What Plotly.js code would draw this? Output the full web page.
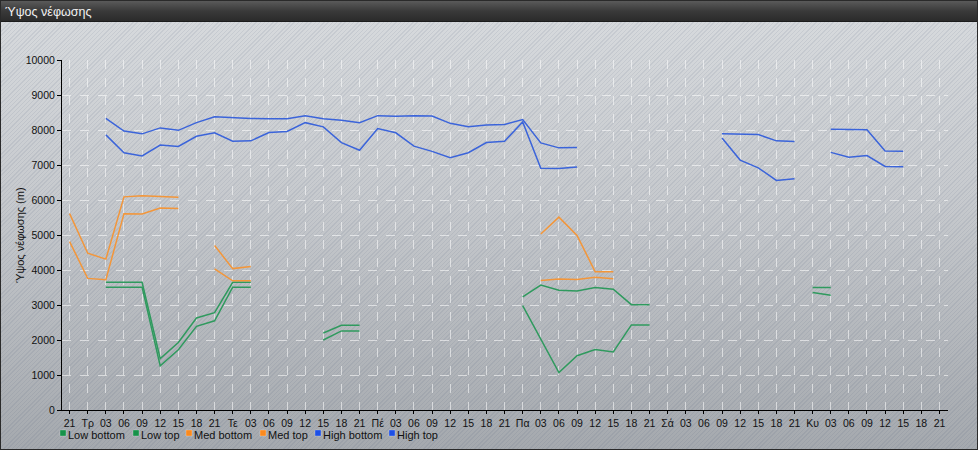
<!DOCTYPE html>
<html>
<head>
<meta charset="utf-8">
<script src="https://cdn.plot.ly/plotly-3.0.1.min.js"></script>
<style>
  html, body { margin: 0; padding: 0; }
  #wrap {
    position: relative; width: 978px; height: 450px; box-sizing: border-box;
    border: 1px solid #2a2a2a; overflow: hidden;
    background:
      repeating-linear-gradient(135deg, rgba(70,85,115,0.10) 0px, rgba(70,85,115,0.10) 1px, rgba(255,255,255,0) 1px, rgba(255,255,255,0) 3px),
      linear-gradient(to bottom, #d8dbde 0%, #c6c9cd 45%, #a5a9ae 100%);
  }
  #bar {
    position: absolute; left: 0; top: 0; width: 100%; height: 21px;
    background: linear-gradient(to bottom, #5a5a5a 0%, #3a3a3a 50%, #2b2b2b 100%);
    border-bottom: 1px solid #1c1c1c;
    color: #f2f2f2; font-family: "Liberation Sans", Arial, sans-serif; font-size: 12.5px;
    line-height: 22px; padding-left: 4px; box-sizing: border-box;
  }
  #chart { position: absolute; left: -1px; top: -1px; width: 978px; height: 450px; }
</style>
</head>
<body>
<div id="wrap">
  <div id="bar">Ύψος νέφωσης</div>
  <div id="chart"></div>
</div>
<script>
// Category labels (every 3 hours)
var tickLabels = ["21","Τρ","03","06","09","12","15","18",
                  "21","Τε","03","06","09","12","15","18",
                  "21","Πέ","03","06","09","12","15","18",
                  "21","Πα","03","06","09","12","15","18",
                  "21","Σά","03","06","09","12","15","18",
                  "21","Κυ","03","06","09","12","15","18","21"];
var N = null;
var lowBottom = [N,N,3510,3510,3510,1260,1720,2390,2550,3510,3510,N,N,N,2000,2260,2260,N,N,N,N,N,N,N,N,2980,2020,1070,1550,1730,1660,2430,2430,N,N,N,N,N,N,N,N,3360,3280,N,N,N,N,N,N];
var lowTop    = [N,N,3650,3650,3650,1470,1930,2630,2780,3650,3650,N,N,N,2200,2420,2420,N,N,N,N,N,N,N,N,3230,3570,3420,3400,3500,3450,3010,3010,N,N,N,N,N,N,N,N,3500,3500,N,N,N,N,N,N];
var medBottom = [4810,3760,3720,5610,5600,5770,5760,N,4030,3690,3690,N,N,N,N,N,N,N,N,N,N,N,N,N,N,N,3700,3740,3730,3790,3750,N,N,N,N,N,N,N,N,N,N,N,N,N,N,N,N,N,N];
var medTop    = [5610,4480,4310,6090,6120,6100,6080,N,4700,4040,4100,N,N,N,N,N,N,N,N,N,N,N,N,N,N,N,5030,5510,4990,3950,3950,N,N,N,N,N,N,N,N,N,N,N,N,N,N,N,N,N,N];
var highBottom= [N,N,7860,7350,7260,7570,7530,7820,7920,7680,7690,7930,7960,8210,8090,7640,7420,8040,7920,7540,7390,7210,7350,7640,7680,8230,6910,6900,6940,N,N,N,N,N,N,N,7770,7140,6920,6560,6610,N,7360,7220,7270,6960,6950,N,N];
var highTop   = [N,N,8330,7970,7890,8060,7990,8210,8380,8350,8330,8320,8320,8410,8320,8280,8210,8410,8390,8410,8400,8190,8090,8140,8160,8300,7630,7490,7500,N,N,N,N,N,N,N,7890,7880,7870,7690,7670,N,8020,8020,8010,7400,7390,N,N];
var yTicks = [0,1000,2000,3000,4000,5000,6000,7000,8000,9000,10000];
var yTickText = ["0","1000","2000","3000","4000","5000","6000","7000","8000","9000","10000"];
var yTitle = "Ύψος νέφωσης (m)";

var seriesNames = ["Low bottom","Low top","Med bottom","Med top","High bottom","High top"];
var seriesData = [lowBottom, lowTop, medBottom, medTop, highBottom, highTop];
var lineColors = ["#2f9a5e","#2f9a5e","#f3963a","#f3963a","#3b64da","#3b64da"];
var legendColors = ["#17924a","#17924a","#fb8a1e","#fb8a1e","#1c4fe6","#1c4fe6"];

var xIdx = tickLabels.map(function(_, i){ return i; });

var traces = seriesData.map(function(arr, k){
  return {
    type: "scatter", mode: "lines", name: seriesNames[k],
    x: xIdx, y: arr, connectgaps: false, showlegend: false,
    line: {color: lineColors[k], width: 1.5},
    hoverinfo: "x+y+name"
  };
});

// Manual legend (square markers + text), positions in pixels
var W = 978, H = 450, mL = 62, mR = 30, mT = 60, mB = 40;
var pw = W - mL - mR, ph = H - mT - mB;
function px2x(px){ return (px - mL) / pw; }
function py2y(py){ return (H - mB - py) / ph; }
var legMarkerX = [63, 136, 189, 263, 318, 392];
var legY = 434.5;
var shapes = [], annotations = [];
seriesNames.forEach(function(name, k){
  shapes.push({
    type: "rect", xref: "paper", yref: "paper",
    xsizemode: "pixel", ysizemode: "pixel",
    xanchor: px2x(legMarkerX[k]), yanchor: py2y(legY - 1.5),
    x0: -3, x1: 3, y0: -3, y1: 3,
    fillcolor: legendColors[k], line: {color: "rgba(255,255,255,0.5)", width: 0.5}
  });
  annotations.push({
    xref: "paper", yref: "paper", x: px2x(legMarkerX[k] + 4), y: py2y(legY),
    xanchor: "left", yanchor: "middle", showarrow: false, text: name,
    font: {size: 11, color: "#111"}, borderpad: 0
  });
});
// Y-axis title as rotated annotation placed at the reference position
annotations.push({
  xref: "paper", yref: "paper", x: px2x(20), y: 0.5, xanchor: "center", yanchor: "middle",
  textangle: -90, showarrow: false, text: yTitle, font: {size: 11, color: "#111"}, borderpad: 0
});

var layout = {
  width: W, height: H,
  margin: {l: mL, r: mR, t: mT, b: mB, pad: 0},
  paper_bgcolor: "rgba(0,0,0,0)", plot_bgcolor: "rgba(0,0,0,0)",
  font: {family: "Liberation Sans, Arial, sans-serif", size: 11, color: "#111"},
  showlegend: false,
  xaxis: {
    range: [-0.42, 48.47], tickmode: "array", tickvals: xIdx, ticktext: tickLabels,
    showgrid: true, gridcolor: "rgba(255,255,255,0.55)", griddash: "dash", gridwidth: 1,
    showline: true, linecolor: "#000", linewidth: 1,
    ticks: "outside", ticklen: 3, tickcolor: "#000", tickangle: 0,
    tickfont: {size: 10.5}, zeroline: false, fixedrange: true
  },
  yaxis: {
    range: [0, 10000], tickmode: "array", tickvals: yTicks, ticktext: yTickText,
    showgrid: true, gridcolor: "rgba(255,255,255,0.55)", griddash: "dash", gridwidth: 1,
    showline: true, linecolor: "#000", linewidth: 1,
    ticks: "outside", ticklen: 4, tickcolor: "#000",
    tickfont: {size: 10.5}, zeroline: false, fixedrange: true
  },
  shapes: shapes,
  annotations: annotations
};

Plotly.newPlot("chart", traces, layout, {displayModeBar: false, staticPlot: true});
</script>
</body>
</html>
